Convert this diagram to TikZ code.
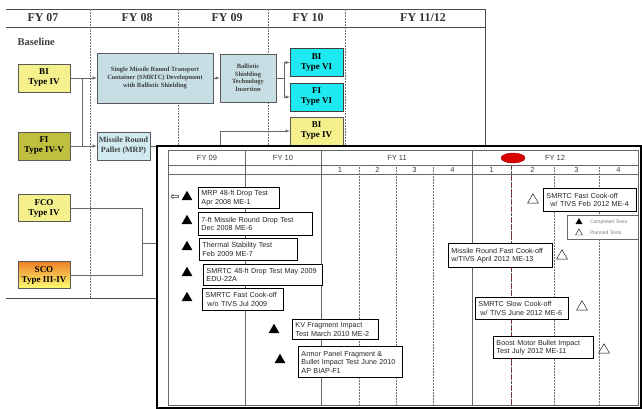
\documentclass[tikz,border=0pt]{standalone}
\usepackage{fontspec}
\setmainfont{Liberation Serif}
\setsansfont{Liberation Sans}
\newfontfamily\symfont{DejaVu Sans}
\usetikzlibrary{arrows,shapes,positioning}

\definecolor{boxyellow}{RGB}{244,240,140}
\definecolor{boxolive}{RGB}{192,192,64}
\definecolor{boxcyan}{RGB}{30,232,240}
\definecolor{planblue}{RGB}{198,222,228}
\definecolor{mrpblue}{RGB}{208,234,240}
\definecolor{boxorange}{RGB}{238,128,40}

\begin{document}
\begin{tikzpicture}[x=1pt, y=-1pt,
        base/.style={draw=black!65, font=\bfseries\fontsize{9}{10}\selectfont, align=center, minimum width=52, minimum height=28, inner sep=1pt},
        plan/.style={draw=black!65, fill=planblue, font=\bfseries\fontsize{6.5}{8}\selectfont, text=black!75, align=center, inner sep=2pt},
        head/.style={font=\bfseries\fontsize{12}{12}\selectfont, text=black!80},
        ev/.style={draw, line width=.9pt, fill=white, font=\sffamily\fontsize{7.2}{8.5}\selectfont, text=black!85, align=left, anchor=north west, inner xsep=3pt, inner ysep=1pt},
        done/.style={regular polygon, regular polygon sides=3, fill=black, minimum size=12.5, inner sep=0pt},
        todo/.style={done, fill=white, draw=black, thin},
        qtr/.style={font=\sffamily\fontsize{7.5}{8}\selectfont, text=black!75},
        link/.style={draw=black!60, line width=.5pt},
        grid/.style={draw=black!55, line width=.5pt, densely dotted}
    ]
  \useasboundingbox (0,0) rectangle (642,409);

  % Baseline chart
  \draw[black!70] (6,9) -- (485,9) -- (485,146);
  \draw[black!70] (6,27) -- (485,27);
  \draw[black!70] (6,298) -- (157,298);
  \foreach \x in {90,178,268,345} \draw[grid] (\x,9) -- (\x,298);

  \node[head] (fy07) at (43,18) {FY 07};
  \node[head] (fy08) at (137,18) {FY 08};
  \node[head] (fy09) at (227,18) {FY 09};
  \node[head] (fy10) at (308,18) {FY 10};
  \node[head] (fy1112) at (423,18) {FY 11/12};
  \node[font=\bfseries\fontsize{10.5}{12}\selectfont, text=black!75, anchor=west] (baseline) at (14,42) {Baseline};

  % Nodes
  \node[base, fill=boxyellow] (bi4) at (44,78) {BI\\Type IV};
  \node[base, fill=boxolive] (fi45) at (44,146) {FI\\Type IV-V};
  \node[base, fill=boxyellow, minimum height=27] (fco) at (44,208) {FCO\\Type IV};
  \node[base, top color=boxorange, bottom color=yellow!55, minimum height=27] (sco) at (44,275) {SCO\\Type III-IV};
  \node[plan, minimum width=116, minimum height=50] (smrtc) at (155,78) {Single Missile Round Transport\\Container (SMRTC) Development\\with Ballistic Shielding};
  \node[plan, minimum width=56, minimum height=48, text width=50, font=\bfseries\fontsize{6.5}{7.5}\selectfont] (bst) at (248,78) {Ballistic\\Shielding\\Technology\\Insertion};
  \node[plan, fill=mrpblue, minimum width=53, minimum height=28, inner sep=1pt, font=\bfseries\fontsize{8}{10}\selectfont] (mrp) at (123.5,146) {Missile Round\\Pallet (MRP)};
  \node[base, fill=boxcyan, minimum width=53, draw=black!75] (bi6) at (316.5,62.5) {BI\\Type VI};
  \node[base, fill=boxcyan, minimum width=53, draw=black!75] (fi6) at (316.5,97) {FI\\Type VI};
  \node[base, fill=boxyellow, minimum width=53] (bi4b) at (316.5,131) {BI\\Type IV};

  \coordinate (j1) at (82,78);
  \coordinate (j2) at (284,78);
  \coordinate (j3) at (220,146);
  \coordinate (j4) at (142,243);
  \coordinate (j5) at (165,243);

  \draw[link,-latex] (bi4) -- (smrtc);
  \draw[link] (j1) -- (j1 |- fi45);
  \draw[link,-latex] (fi45) -- (mrp);
  \draw[link,-latex] (smrtc) -- (bst);
  \draw[link] (bst) -- (j2);
  \draw[link,-latex] (j2) |- (bi6);
  \draw[link,-latex] (j2) |- (fi6);
  \draw[link,-latex] (mrp) -- (j3) |- (bi4b);
  \draw[link] (fco) -| (j4);
  \draw[link] (sco) -| (j4);
  \draw[link] (j4) -- (j5);

  % Test schedule
  \draw[line width=1.6pt, fill=white] (157,146) rectangle (641,408);
  \draw[black!60] (168,150) rectangle (638,405);
  \draw[black!60] (168,165) -- (638,165);
  \draw[black!60] (168,174) -- (638,174);
  \foreach \x in {245,321,472} \draw[black!60] (\x,150) -- (\x,405);
  \foreach \x in {359,396,433,554,599} \draw[grid] (\x,165) -- (\x,405);
  \draw[red!80!black, dashed] (511,165) -- (511,405);
  \draw[black!70, densely dotted] (511,165) -- (511,405);
  \node[ellipse, fill=red!85!black, draw=red!60!black, minimum width=24, minimum height=10, inner sep=0pt] (now) at (513,158) {};

  \node[qtr] (sfy09) at (207,158) {FY 09};
  \node[qtr] (sfy10) at (283,158) {FY 10};
  \node[qtr] (sfy11) at (397,158) {FY 11};
  \node[qtr] (sfy12) at (555,158) {FY 12};
  \foreach \x/\q [count=\i] in {340/1,377.5/2,414.5/3,452.5/4,491.5/1,532.5/2,576.5/3,618.5/4}
    \node[qtr] (q\i) at (\x,170) {\q};

  % Completed tests
  \node[font=\symfont\fontsize{11}{11}\selectfont, inner sep=0pt] (back) at (175,197) {⇦};
  \node[done] (t1) at (187,197) {};
  \node[done] (t2) at (187,221) {};
  \node[done] (t3) at (187,247) {};
  \node[done] (t4) at (187,273) {};
  \node[done] (t5) at (187,298) {};
  \node[done] (t6) at (274,330) {};
  \node[done] (t7) at (280,360) {};
  \node[ev, text width=75, minimum height=21] (ev1) at (198,187) {MRP 48-ft Drop Test\\Apr 2008 ME-1};
  \node[ev, text width=108, minimum height=23] (ev2) at (198,212) {7-ft Missile Round Drop Test\\Dec 2008 ME-6};
  \node[ev, text width=92, minimum height=22] (ev3) at (199,238) {Thermal Stability Test\\Feb 2009 ME-7};
  \node[ev, text width=113, minimum height=21] (ev4) at (203,264) {SMRTC 48-ft Drop Test May 2009\\EDU-22A};
  \node[ev, text width=75, minimum height=22] (ev5) at (202,288) {SMRTC Fast Cook-off\\\hspace{2pt}w/o TIVS Jul 2009};
  \node[ev, text width=80, minimum height=20] (ev6) at (292,319) {KV Fragment Impact\\Test March 2010 ME-2};
  \node[ev, text width=98, minimum height=31] (ev7) at (298,346) {Armor Panel Fragment \&\\Bullet Impact Test June 2010\\AP BIAP-F1};

  % Planned tests
  \node[todo] (t8) at (533,200) {};
  \node[todo] (t10) at (562,256) {};
  \node[todo] (t11) at (582,307) {};
  \node[todo] (t12) at (604,350) {};
  \node[ev, text width=87, minimum height=23] (ev8) at (543,188) {SMRTC Fast Cook-off\\\hspace{4pt}w/ TIVS Feb 2012 ME-4};
  \node[ev, text width=98, minimum height=24] (ev10) at (448,243) {Missile Round Fast Cook-off\\w/TIVS April 2012 ME-13};
  \node[ev, text width=87, minimum height=22] (ev11) at (475,297) {SMRTC Slow Cook-off\\\hspace{2pt}w/ TIVS June 2012 ME-6};
  \node[ev, text width=94, minimum height=22] (ev12) at (493,336) {Boost Motor Bullet Impact\\Test July 2012 ME-11};

  % Legend
  \node[ev, line width=.5pt, draw=black!60, minimum width=71, minimum height=24] (legend) at (567,215) {};
  \node[done, minimum size=8] (lgdone) at (579,222) {};
  \node[todo, minimum size=8] (lgtodo) at (579,233) {};
  \node[font=\sffamily\fontsize{5}{6}\selectfont, text=black!50, right=5pt of lgdone] (lgdonetxt) {Completed Tests};
  \node[font=\sffamily\fontsize{5}{6}\selectfont, text=black!50, right=5pt of lgtodo] (lgtodotxt) {Planned Tests};
\end{tikzpicture}
\end{document}
